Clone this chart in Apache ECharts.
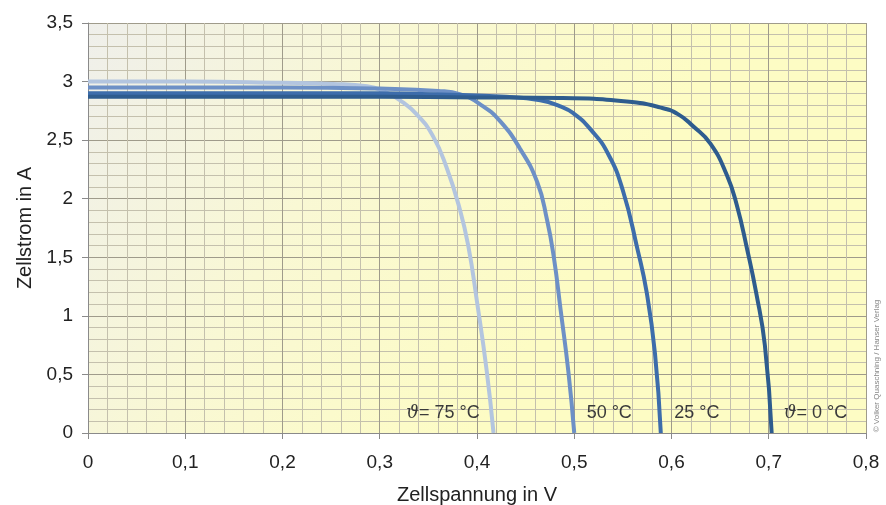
<!DOCTYPE html>
<html><head><meta charset="utf-8">
<script src="https://cdn.jsdelivr.net/npm/echarts@6/dist/echarts.min.js"></script>
<style>html,body{margin:0;padding:0;background:#fff}#c{width:886px;height:505px}</style>
</head><body><div id="c"></div>
<script>
var xTicks = ['0','0,1','0,2','0,3','0,4','0,5','0,6','0,7','0,8'];
var yTicks = ['0','0,5','1','1,5','2','2,5','3','3,5'];
var seriesNames = ['0 °C','25 °C','50 °C','75 °C'];
var curve0 = [[0,2.87],[0.1,2.87],[0.2,2.87],[0.3,2.87],[0.4,2.865],[0.485,2.86],[0.554,2.83],[0.588,2.78],[0.607,2.72],[0.622,2.62],[0.640,2.47],[0.657,2.2],[0.667,1.95],[0.678,1.56],[0.687,1.2],[0.696,0.75],[0.703,0]];
var curve25 = [[0,2.90],[0.1,2.90],[0.2,2.90],[0.3,2.90],[0.362,2.89],[0.43,2.87],[0.465,2.84],[0.485,2.79],[0.499,2.73],[0.517,2.59],[0.535,2.38],[0.550,2.07],[0.565,1.57],[0.5745,1.2],[0.583,0.68],[0.589,0]];
var curve50 = [[0,2.95],[0.1,2.95],[0.2,2.95],[0.3,2.94],[0.36,2.92],[0.383,2.89],[0.406,2.79],[0.424,2.66],[0.444,2.43],[0.462,2.14],[0.472,1.82],[0.479,1.50],[0.486,1.05],[0.494,0.52],[0.500,0]];
var curve75 = [[0,3.0],[0.1,3.0],[0.2,2.99],[0.252,2.98],[0.287,2.96],[0.306,2.91],[0.321,2.84],[0.338,2.72],[0.355,2.53],[0.369,2.26],[0.382,1.92],[0.391,1.60],[0.400,1.12],[0.410,0.53],[0.417,0]];
var curveLabels = ['{i|ϑ}= 0 °C','25 °C','50 °C','{i|ϑ}= 75 °C'];
var labelAnchors = [[0.748,0.17],[0.626,0.17],[0.536,0.17],[0.365,0.17]];
var colors = ['#2e5c8e','#3d6dab','#6d90c6','#b3c5df'];
var curves = [curve0, curve25, curve50, curve75];

var chart = echarts.init(document.getElementById('c'), null, {renderer:'canvas'});
function fmt(v){ return String(Math.round(v*100)/100).replace('.', ','); }
var series = curves.map(function(d, i){
  return {
    name: seriesNames[i], type:'line', data:d, showSymbol:false, smooth:0.5,
    lineStyle:{color:colors[i], width:4}, z: 10 - i, silent:true,
    markPoint:{
      symbol:'circle', symbolSize:0, silent:true,
      data:[{coord:labelAnchors[i]}],
      label:{show:true, formatter:curveLabels[i], color:'#3a3a3a', fontSize:18, fontFamily:'Arial, Liberation Sans, sans-serif',
        rich:{i:{fontStyle:'italic', fontSize:18, color:'#3a3a3a', fontFamily:'DejaVu Serif, serif'}}}
    }
  };
});
chart.setOption({
  animation:false,
  grid:{left:88, right:20, top:23, bottom:72, show:true, borderWidth:0, outerBoundsMode:'none', containLabel:false,
    backgroundColor:{type:'linear', x:0, y:0, x2:0.6, y2:0.7, colorStops:[{offset:0,color:'#efefeb'},{offset:0.5,color:'#f9f8d4'},{offset:1,color:'#fdfcc4'}]}},
  xAxis:{type:'value', min:0, max:0.8, interval:0.1,
    name:'Zellspannung in V', nameLocation:'middle', nameGap:52,
    nameTextStyle:{fontSize:20, color:'#222', fontFamily:'Liberation Sans, Arial, sans-serif'},
    axisLine:{show:true, lineStyle:{color:'#8a8a8a', width:1}},
    axisTick:{show:true, length:6, lineStyle:{color:'#8a8a8a'}},
    axisLabel:{fontSize:19, color:'#222', margin:20, fontFamily:'Liberation Sans, Arial, sans-serif', formatter:function(v){return fmt(v);}},
    splitLine:{show:true, lineStyle:{color:'#9f9b8b', width:1}},
    minorTick:{show:false, splitNumber:5},
    minorSplitLine:{show:true, lineStyle:{color:'#c4c0ad', width:1}}
  },
  yAxis:{type:'value', min:0, max:3.5, interval:0.5,
    name:'Zellstrom in A', nameLocation:'middle', nameGap:45, nameRotate:90,
    nameTextStyle:{fontSize:20, color:'#222', fontFamily:'Liberation Sans, Arial, sans-serif'},
    axisLine:{show:true, lineStyle:{color:'#8a8a8a', width:1}},
    axisTick:{show:true, length:6, lineStyle:{color:'#8a8a8a'}},
    axisLabel:{fontSize:19, color:'#222', margin:15, fontFamily:'Liberation Sans, Arial, sans-serif', formatter:function(v){return fmt(v);}},
    splitLine:{show:true, lineStyle:{color:'#9f9b8b', width:1}},
    minorTick:{show:false, splitNumber:5},
    minorSplitLine:{show:true, lineStyle:{color:'#c4c0ad', width:1}}
  },
  graphic:[{type:'text', x:877, y:366, rotation:Math.PI/2, style:{text:'© Volker Quaschning / Hanser Verlag', fontSize:8, fill:'#888', align:'center', verticalAlign:'middle', fontFamily:'Liberation Sans, Arial, sans-serif'}}],
  series:series
});
</script></body></html>
